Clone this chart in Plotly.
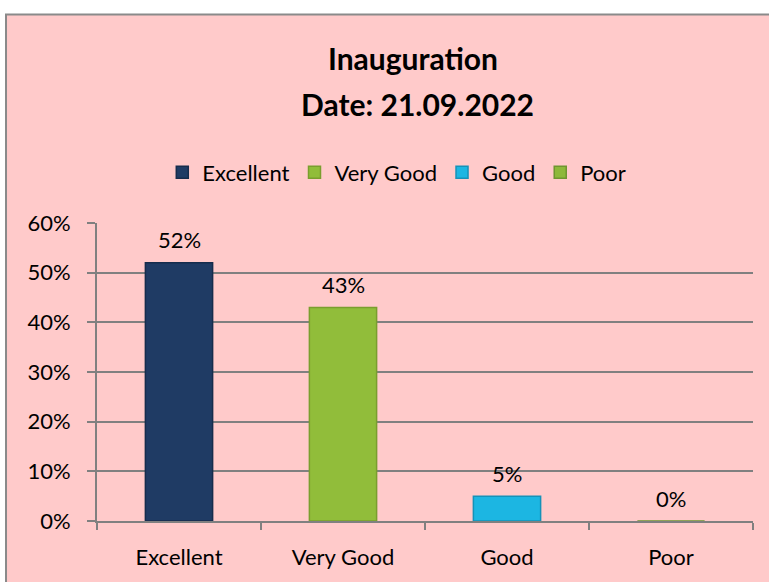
import plotly.graph_objects as go

categories = ["Excellent", "Very Good", "Good", "Poor"]
values = [0.52, 0.43, 0.05, 0.0]
labels = ["52%", "43%", "5%", "0%"]
colors = ["#1F3B64", "#91BD3A", "#1CB6E2", "#8DB83A"]
edges = ["#162C4C", "#7A9E2E", "#1592B8", "#6F9530"]

FONT = "Lato"

fig = go.Figure()

for cat, val, col, edge in zip(categories, values, colors, edges):
    fig.add_trace(go.Bar(
        x=[cat], y=[val], name=cat,
        marker=dict(color=col, line=dict(color=edge, width=1.5)),
        width=0.41,
    ))

# value labels above each bar
for cat, val, lab in zip(categories, values, labels):
    fig.add_annotation(x=cat, y=val, text=lab, showarrow=False, yshift=23,
                       font=dict(family=FONT, size=22, color="#000000"))

# two-line title
fig.add_annotation(xref="paper", yref="paper", x=0.481, y=1.553, xanchor="center", yanchor="middle",
                   text="<b>Inauguration</b>", showarrow=False,
                   font=dict(family=FONT, size=30, color="#000000"))
fig.add_annotation(xref="paper", yref="paper", x=0.488, y=1.40, xanchor="center", yanchor="middle",
                   text="<b>Date: 21.09.2022</b>", showarrow=False,
                   font=dict(family=FONT, size=30, color="#000000"))

# pink chart area with grey border
fig.add_shape(type="rect", xref="paper", yref="paper", x0=-0.1387, x1=1.05, y0=-0.25, y1=1.70,
              fillcolor="#FFCACA", line=dict(color="#8A8A8A", width=2), layer="below")

fig.update_layout(
    width=769, height=582,
    margin=dict(l=97, r=16, t=223, b=59),
    paper_bgcolor="white",
    plot_bgcolor="rgba(0,0,0,0)",
    barmode="overlay",
    font=dict(family=FONT, size=22, color="#000000"),
    showlegend=True,
    legend=dict(orientation="h", x=0.457, xanchor="center", y=1.17, yanchor="middle",
                font=dict(family=FONT, size=22), bgcolor="rgba(0,0,0,0)", itemwidth=30,
                traceorder="normal"),
    xaxis=dict(
        showline=True, linecolor="#808080", linewidth=2,
        ticks="outside", ticklen=7, tickcolor="#808080", tickwidth=2,
        tickson="boundaries", showgrid=False, ticklabelstandoff=16,
        tickfont=dict(family=FONT, size=22),
    ),
    yaxis=dict(
        range=[0, 0.6], dtick=0.1, tickformat=".0%",
        showline=True, linecolor="#808080", linewidth=2,
        ticks="outside", ticklen=8, tickcolor="#808080", tickwidth=2,
        showgrid=True, gridcolor="#808080", gridwidth=2,
        zeroline=False, ticklabelstandoff=12,
        tickfont=dict(family=FONT, size=22),
    ),
)

# drop the default page margin so the figure sits at the window origin
fig.write_html("out.html", config={"displayModeBar": False},
               post_script="document.body.style.margin='0';document.body.style.overflow='hidden';")
